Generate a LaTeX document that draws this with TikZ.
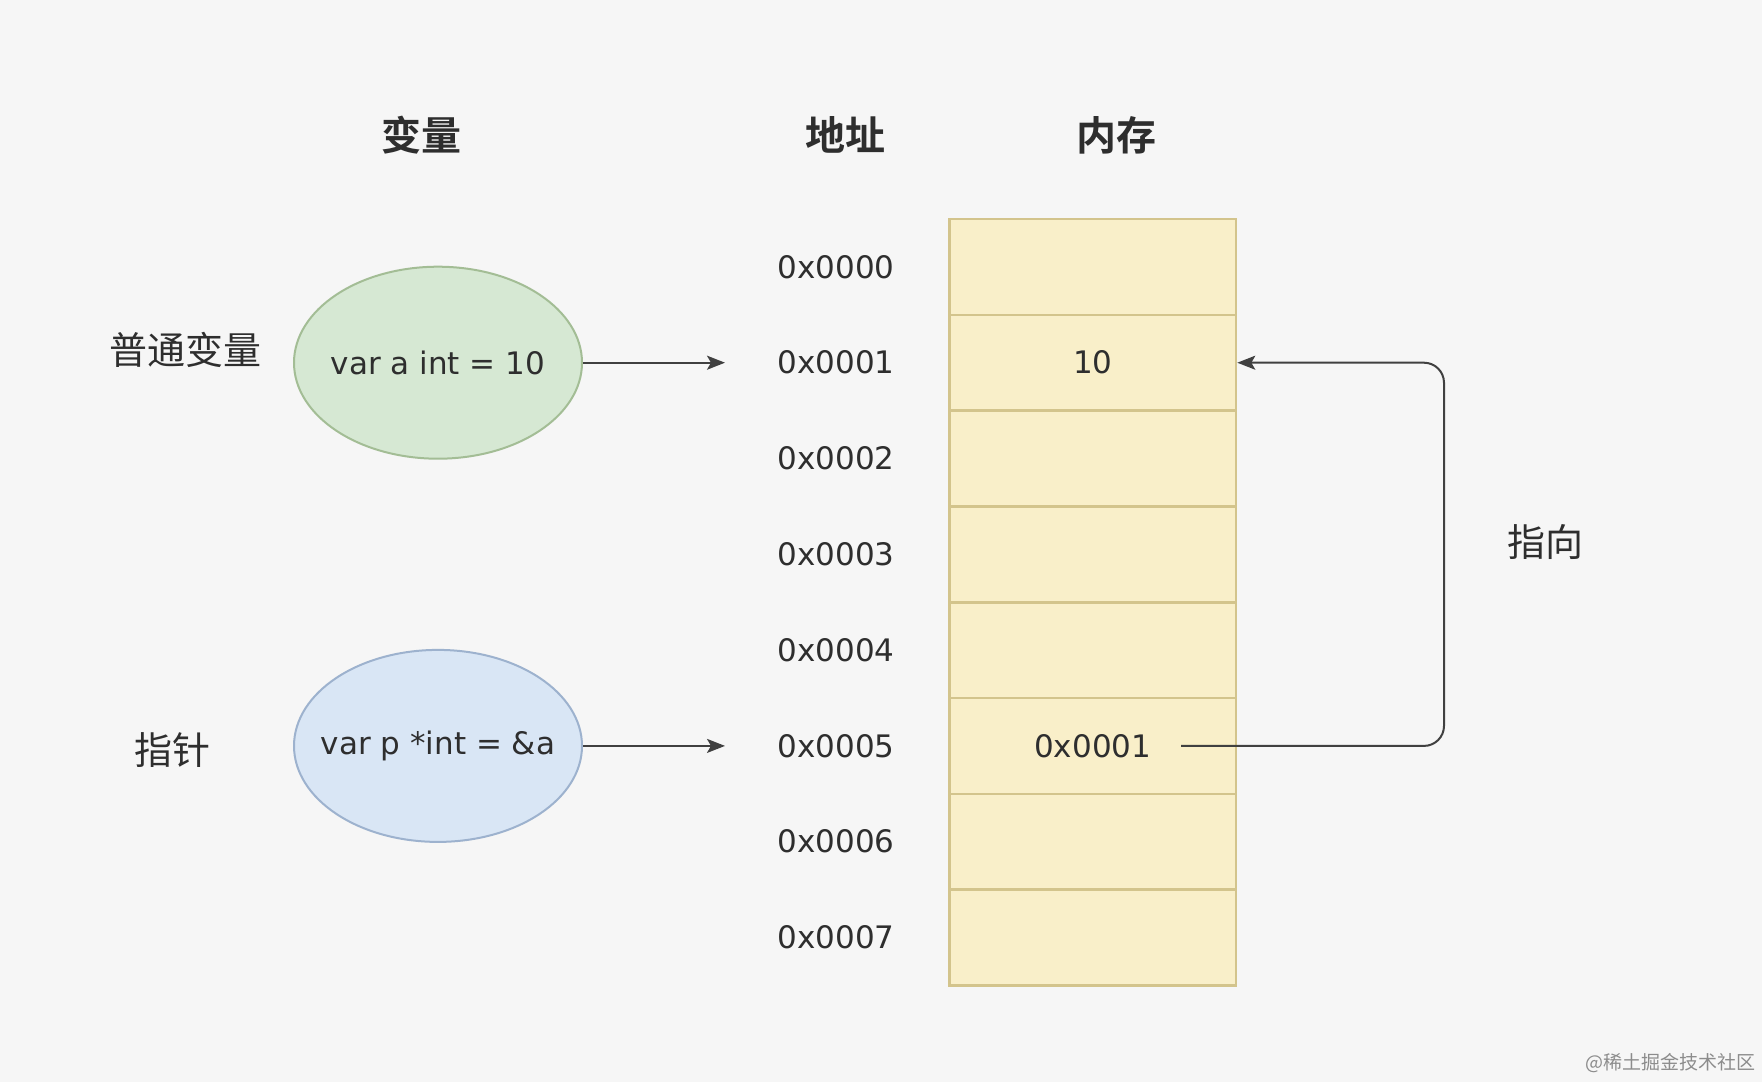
\documentclass[tikz,border=0pt]{standalone}
\usepackage{fontspec}
\setmainfont{DejaVu Sans}
\newfontfamily\cjk{Noto Sans CJK SC}[BoldFont={Noto Sans CJK SC Bold}]
\usetikzlibrary{arrows.meta,shapes.geometric}
\definecolor{bgc}{HTML}{F6F6F6}
\definecolor{memfill}{HTML}{F9EFC9}
\definecolor{memline}{HTML}{D3C48C}
\definecolor{gfill}{HTML}{D6E8D3}
\definecolor{gline}{HTML}{A3BD95}
\definecolor{bfill}{HTML}{D9E6F5}
\definecolor{bline}{HTML}{9DB2CE}
\definecolor{conncol}{HTML}{404040}
\definecolor{txt}{HTML}{2E2E2E}
\tikzset{
  hdr/.style={font=\cjk\bfseries\fontsize{20}{24}\selectfont, text=txt},
  lbl/.style={font=\cjk\fontsize{19}{23}\selectfont, text=txt},
  addr/.style={font=\fontsize{15.5}{18}\selectfont, text=txt, inner sep=0pt},
  cell/.style={draw=memline, fill=memfill, line width=1.3pt, minimum width=143.25pt, minimum height=47.9pt, inner sep=0pt, font=\fontsize{15.5}{18}\selectfont, text=txt},
  var/.style={ellipse, line width=1pt, minimum width=144pt, minimum height=96pt, inner sep=0pt},
  vartext/.style={font=\fontsize{15.5}{18}\selectfont, text=txt, inner sep=0pt},
  conn/.style={draw=conncol, line width=1pt, -{Stealth[length=9pt,width=7pt,inset=2pt]}},
}
\begin{document}
\begin{tikzpicture}[x=0.5pt,y=-0.5pt]
\useasboundingbox (0,0) rectangle (1762,1082);
\fill[bgc] (0,0) rectangle (1762,1082);
% headers
\node[hdr] (hvar) at (421,135) {变量};
\node[hdr] (haddr) at (845,135) {地址};
\node[hdr] (hmem) at (1116,135) {内存};
% memory cells
\foreach \i/\t in {0/,1/10,2/,3/,4/,5/0x0001,6/,7/} {
  \node[cell] (c\i) at (1092.75,{219+95.8*(\i+0.5)}) {\t};
}
% addresses
\foreach \i in {0,...,7} {
  \node[addr] (ad\i) at (836,{219+95.8*(\i+0.5)}) {0x000\i};
}
% variables
\node[var, draw=gline, fill=gfill] (va) at (438,362.7) {};
\node[vartext] (vat) at (va.center) {var a int = 10};
\node[var, draw=bline, fill=bfill] (vp) at (438,745.9) {};
\node[vartext] (vpt) at (vp.center) {var p *int = \&a};
\node[lbl] (lnormal) at (185,350) {普通变量};
\node[lbl] (lptr) at (172,750) {指针};
\node[lbl] (lpoint) at (1545,542) {指向};
% connectors
\coordinate (aend) at (725,362.7);
\coordinate (pend) at (725,745.9);
\draw[conn] (va.east) -- (aend);
\draw[conn] (vp.east) -- (pend);
\coordinate (pstart) at (1181,745.9);
\coordinate (bend1) at (1444,745.9);
\coordinate (bend2) at (1444,362.7);
\draw[conn, rounded corners=10pt] (pstart) -- (bend1) -- (bend2) -- (c1.east);
% watermark
\node[font=\cjk\fontsize{9.5}{11}\selectfont, text=black!45, anchor=east, inner sep=0pt] (wm) at (1756,1063) {@稀土掘金技术社区};
\end{tikzpicture}
\end{document}
